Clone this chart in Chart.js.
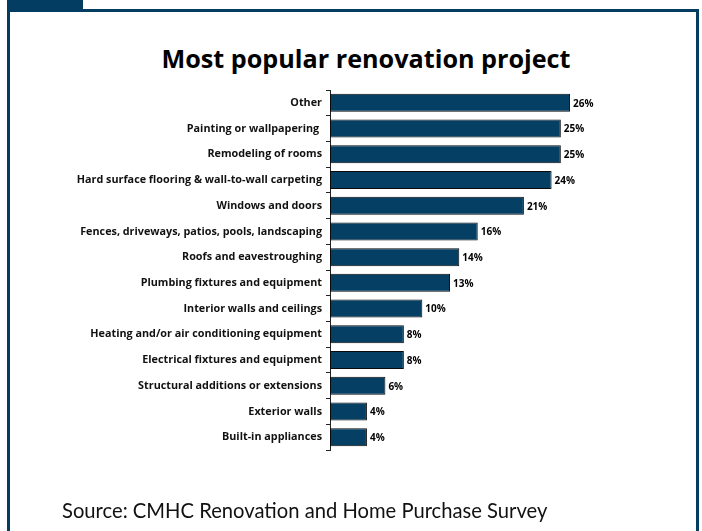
<!DOCTYPE html>
<html>
<head>
<meta charset="utf-8">
<script src="https://cdn.jsdelivr.net/npm/chart.js@4.4.1/dist/chart.umd.min.js"></script>
<style>
  html, body { margin: 0; padding: 0; background: #fff; }
  #wrap { position: relative; width: 702px; height: 531px; overflow: hidden; font-family: Lato, sans-serif; }
  #tab { position: absolute; left: 7px; top: 0; width: 76px; height: 11px; background: #033d62; }
  #frame { position: absolute; left: 7px; top: 9px; width: 686px; height: 540px; border: 3px solid #033d62; border-bottom: none; }
  #title { position: absolute; left: 0; width: 732px; top: 41px; text-align: center; font-family: "Open Sans", sans-serif; font-weight: bold; font-size: 25.2px; color: #000; }
  #source { position: absolute; left: 62px; top: 498px; font-size: 20.2px; color: #111; }
  #chart { position: absolute; left: 0; top: 0; }
</style>
</head>
<body>
<div id="wrap">
  <div id="tab"></div>
  <div id="frame"></div>
  <div id="title">Most popular renovation project</div>
  <canvas id="chart" width="702" height="531"></canvas>
  <div id="source">Source: CMHC Renovation and Home Purchase Survey</div>
</div>
<script>
// Share of renovators doing each project (%)
const projects = [
  'Other',
  'Painting or wallpapering ',
  'Remodeling of rooms',
  'Hard surface flooring & wall-to-wall carpeting',
  'Windows and doors',
  'Fences, driveways, patios, pools, landscaping',
  'Roofs and eavestroughing',
  'Plumbing fixtures and equipment',
  'Interior walls and ceilings',
  'Heating and/or air conditioning equipment',
  'Electrical fixtures and equipment',
  'Structural additions or extensions',
  'Exterior walls',
  'Built-in appliances'
];
const shares = [26, 25, 25, 24, 21, 16, 14, 13, 10, 8, 8, 6, 4, 4];

const barColor = '#053f63';
const labelFont = '"Open Sans", sans-serif';

// writes "26%" etc. just past the end of every bar
const valueLabels = {
  id: 'valueLabels',
  afterDatasetsDraw(chart) {
    const ctx = chart.ctx;
    const meta = chart.getDatasetMeta(0);
    ctx.save();
    ctx.font = 'bold 10px ' + labelFont;
    ctx.fillStyle = '#000';
    ctx.textAlign = 'left';
    ctx.textBaseline = 'middle';
    meta.data.forEach((bar, i) => {
      ctx.fillText(shares[i] + '%', bar.x + 3, bar.y + 1);
    });
    ctx.restore();
  }
};

new Chart(document.getElementById('chart'), {
  type: 'bar',
  data: {
    labels: projects,
    datasets: [{
      data: shares,
      backgroundColor: barColor,
      borderColor: '#0a0a0a',
      borderWidth: 1,
      borderSkipped: false,
      categoryPercentage: 1,
      barPercentage: 0.7
    }]
  },
  options: {
    indexAxis: 'y',
    responsive: false,
    animation: false,
    layout: { padding: { left: 40, right: 95, top: 90, bottom: 81 } },
    plugins: {
      legend: { display: false },
      tooltip: { enabled: false }
    },
    scales: {
      x: { display: false, min: 0, max: 30 },
      y: {
        afterFit(scale) { scale.width = 290; },
        grid: {
          offset: true,
          drawOnChartArea: false,
          tickLength: 4,
          color: '#222'
        },
        border: { color: '#222', width: 1 },
        ticks: {
          color: '#111',
          padding: 4,
          font: { family: labelFont, size: 10.8, weight: 'bold' }
        }
      }
    }
  },
  plugins: [valueLabels]
});
</script>
</body>
</html>
